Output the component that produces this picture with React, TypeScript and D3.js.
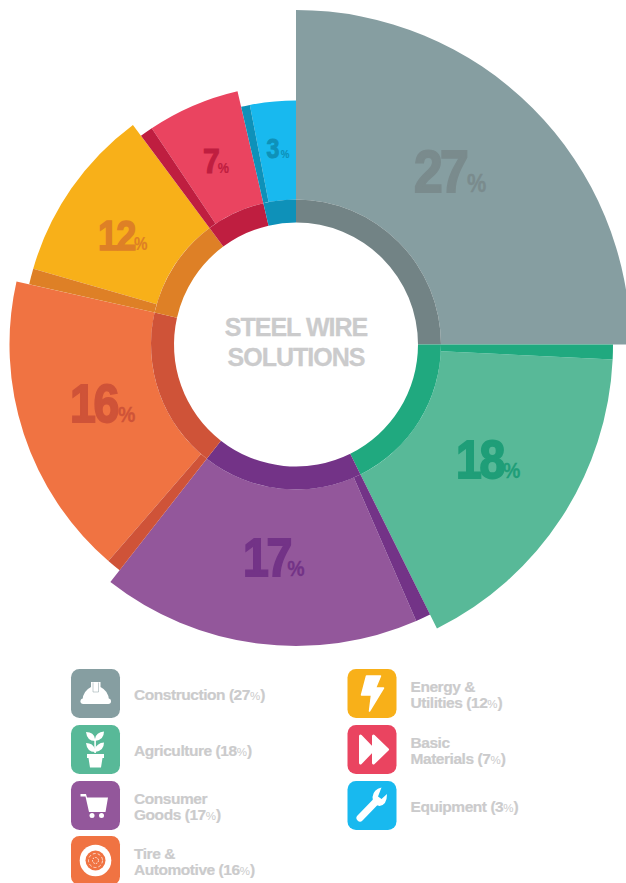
import React from "react";
import * as d3 from "d3";

const categories = ["Construction", "Agriculture", "Consumer Goods", "Tire & Automotive", "Energy & Utilities", "Basic Materials", "Equipment"];
const percentValues = [27, 18, 17, 16, 12, 7, 3];
const sweepDegrees = [90, 63.6, 64.4, 64.7, 40.7, 23.6, 13];
const bandDegrees = [0, 2.7, 2.9, 2.9, 3.4, 2.9, 2.1];
const outerRadii = [334.5, 317, 301.5, 286.5, 273.5, 260, 244];
const lightColors = ["#869EA1", "#58B998", "#93579B", "#F07342", "#F8B019", "#EA4460", "#18B9EF"];
const darkColors = ["#728385", "#20A97F", "#733387", "#CF5338", "#DE8026", "#BF1E40", "#0E91B9"];
const labelColors = ["#7A8B8D", "#1F9E78", "#733387", "#CF5338", "#DE8026", "#BF1E40", "#0E91B9"];
const labelFontSizes = [60, 54, 54, 54, 42, 35, 27];
const labelAnchors: [number, number][] = [[414, 191.5], [456, 477.5], [243, 575.5], [70, 422], [98, 250], [203, 172.5], [266.5, 157.5]];
const percentOffsets = [-2, -2.7, -6, -1.5, -2.8, -2.4, 1.5];
const legendLines = [
  ["Construction (27"],
  ["Agriculture (18"],
  ["Consumer", "Goods (17"],
  ["Tire &", "Automotive (16"],
  ["Energy &", "Utilities (12"],
  ["Basic", "Materials (7"],
  ["Equipment (3"],
];
const legendX = [71, 71, 71, 71, 347.5, 347.5, 347.5];
const legendY = [669, 725, 781, 836, 669, 725, 781];

const CX = 296;
const CY = 344.5;
const R_IN = 122;
const R_RING = 145;
const FONT = "'Liberation Sans', Arial, Helvetica, sans-serif";
const GREY = "#CBCBCC";

function Icon({ i }: { i: number }) {
  const c = lightColors[i];
  switch (i) {
    case 0:
      return (
        <g fill="#fff">
          <path d="M11.5 31 Q12 22 20 18 V13 H29.5 V18 Q37.5 22 38 31 Z" />
          <rect x="9.5" y="29.5" width="30.5" height="5.5" rx="2.7" />
          <path d="M22 13.5 V23 H27.5 V13.5" fill="none" stroke={c} strokeWidth="0.7" opacity="0.7" />
        </g>
      );
    case 1:
      return (
        <g fill="#fff">
          <path d="M24 16 Q16 16 15 7 Q23 7 24 14 Q25 7 33 6.5 Q33 15 24 16 Z" />
          <path d="M24 27 Q16 27 15 18 Q22 18 24 24 Q26 18 33 17.5 Q33 26 24 27 Z" />
          <rect x="23.3" y="14" width="1.6" height="14" />
          <path d="M16 29 H33 V33 H31.5 L30 42.5 H19 L17.5 33 H16 Z" />
        </g>
      );
    case 2:
      return (
        <g fill="#fff">
          <path d="M9.5 13 H15 L16 16.5 H37 L34.5 31 H18 L14.5 15.5 H9.5 Z" />
          <circle cx="21" cy="34.5" r="2.5" />
          <circle cx="30.5" cy="34.5" r="2.5" />
        </g>
      );
    case 3:
      return (
        <g>
          <circle cx="24.5" cy="24.5" r="15.8" fill="#fff" />
          <circle cx="24.5" cy="24.5" r="10" fill={c} />
          <circle cx="24.5" cy="24.5" r="7" fill="none" stroke="#fff" strokeWidth="0.7" strokeDasharray="3 2" />
          <circle cx="24.5" cy="24.5" r="3" fill="none" stroke="#fff" strokeWidth="0.9" strokeDasharray="1.5 1.2" />
        </g>
      );
    case 4:
      return (
        <g fill="#fff">
          <path d="M19 7 H33 L28 19 H36 L22 42 L24 26 H14 Z" stroke="#fff" strokeWidth="1.5" strokeLinejoin="round" />
        </g>
      );
    case 5:
      return (
        <g fill="#fff" stroke="#fff" strokeWidth="3" strokeLinejoin="round">
          <path d="M13 11 L26 24.5 L13 38 Z" />
          <path d="M26 11 L40 24.5 L26 38 Z" />
        </g>
      );
    default:
      return (
        <g>
          <path d="M12.5 37 L28 21" stroke="#fff" strokeWidth="7" strokeLinecap="round" fill="none" />
          <path d="M34 6.5 Q26 8 25 16 Q25 24 32 25 Q39.5 24 39.5 13 L34 18 L30.5 15.5 Z" fill="#fff" />
        </g>
      );
  }
}

export default function App() {
  const pieGen = d3.pie<number>().sort(null).value((d) => d)(sweepDegrees);
  const toRad = d3.scaleLinear().domain([0, 360]).range([0, 2 * Math.PI]);
  const arc = d3.arc();

  return (
    <svg
      width={626}
      height={883}
      viewBox="0 0 626 883"
      style={{ position: "absolute", left: 0, top: 0, display: "block" }}
      fontFamily={FONT}
    >
      <g transform={`translate(${CX},${CY})`}>
        {pieGen.map((p, i) => {
          const bandEnd = p.startAngle + toRad(bandDegrees[i]);
          return (
            <g key={categories[i]}>
              <path
                d={arc({ innerRadius: R_RING, outerRadius: outerRadii[i], startAngle: bandEnd, endAngle: p.endAngle })!}
                fill={lightColors[i]}
              />
              {bandDegrees[i] > 0 && (
                <path
                  d={arc({ innerRadius: R_RING, outerRadius: outerRadii[i], startAngle: p.startAngle, endAngle: bandEnd })!}
                  fill={darkColors[i]}
                />
              )}
              <path
                d={arc({ innerRadius: R_IN, outerRadius: R_RING, startAngle: p.startAngle, endAngle: p.endAngle })!}
                fill={darkColors[i]}
              />
            </g>
          );
        })}
      </g>

      {percentValues.map((v, i) => {
        const fs = labelFontSizes[i];
        return (
          <text
            key={categories[i]}
            transform={`translate(${labelAnchors[i][0]},${labelAnchors[i][1]}) scale(0.86,1)`}
            fill={labelColors[i]}
            stroke={labelColors[i]}
            strokeWidth={fs * 0.035}
            fontWeight="700"
            fontSize={fs}
            letterSpacing={-fs * 0.05}
          >
            {v}
            <tspan fontSize={fs * 0.42} letterSpacing={0} strokeWidth={fs * 0.005} dx={percentOffsets[i] + fs * 0.05}>%</tspan>
          </text>
        );
      })}

      <g fill={GREY} stroke={GREY} strokeWidth={0.3} fontWeight="700" fontSize={25} textAnchor="middle" letterSpacing={-1}>
        <text x={CX} y={336}>STEEL WIRE</text>
        <text x={CX} y={366}>SOLUTIONS</text>
      </g>

      {categories.map((cat, i) => {
        const lines = legendLines[i];
        const tx = legendX[i] + 63;
        const y0 = legendY[i] + (lines.length === 1 ? 30.5 : 22.5);
        return (
          <g key={cat}>
            <g transform={`translate(${legendX[i]},${legendY[i]})`}>
              <rect width={49} height={49} rx={8.5} fill={lightColors[i]} />
              <Icon i={i} />
            </g>
            <g fill={GREY} stroke={GREY} strokeWidth={0.2} fontWeight="700" fontSize={15.5} letterSpacing={-0.45}>
              {lines.map((l, j) => (
                <text key={l} x={tx} y={y0 + j * 16.3}>
                  {l}
                  {j === lines.length - 1 && (
                    <>
                      <tspan fontSize={11.5} fontWeight="400" letterSpacing={0} strokeWidth={0}>%</tspan>
                      <tspan>)</tspan>
                    </>
                  )}
                </text>
              ))}
            </g>
          </g>
        );
      })}
    </svg>
  );
}
